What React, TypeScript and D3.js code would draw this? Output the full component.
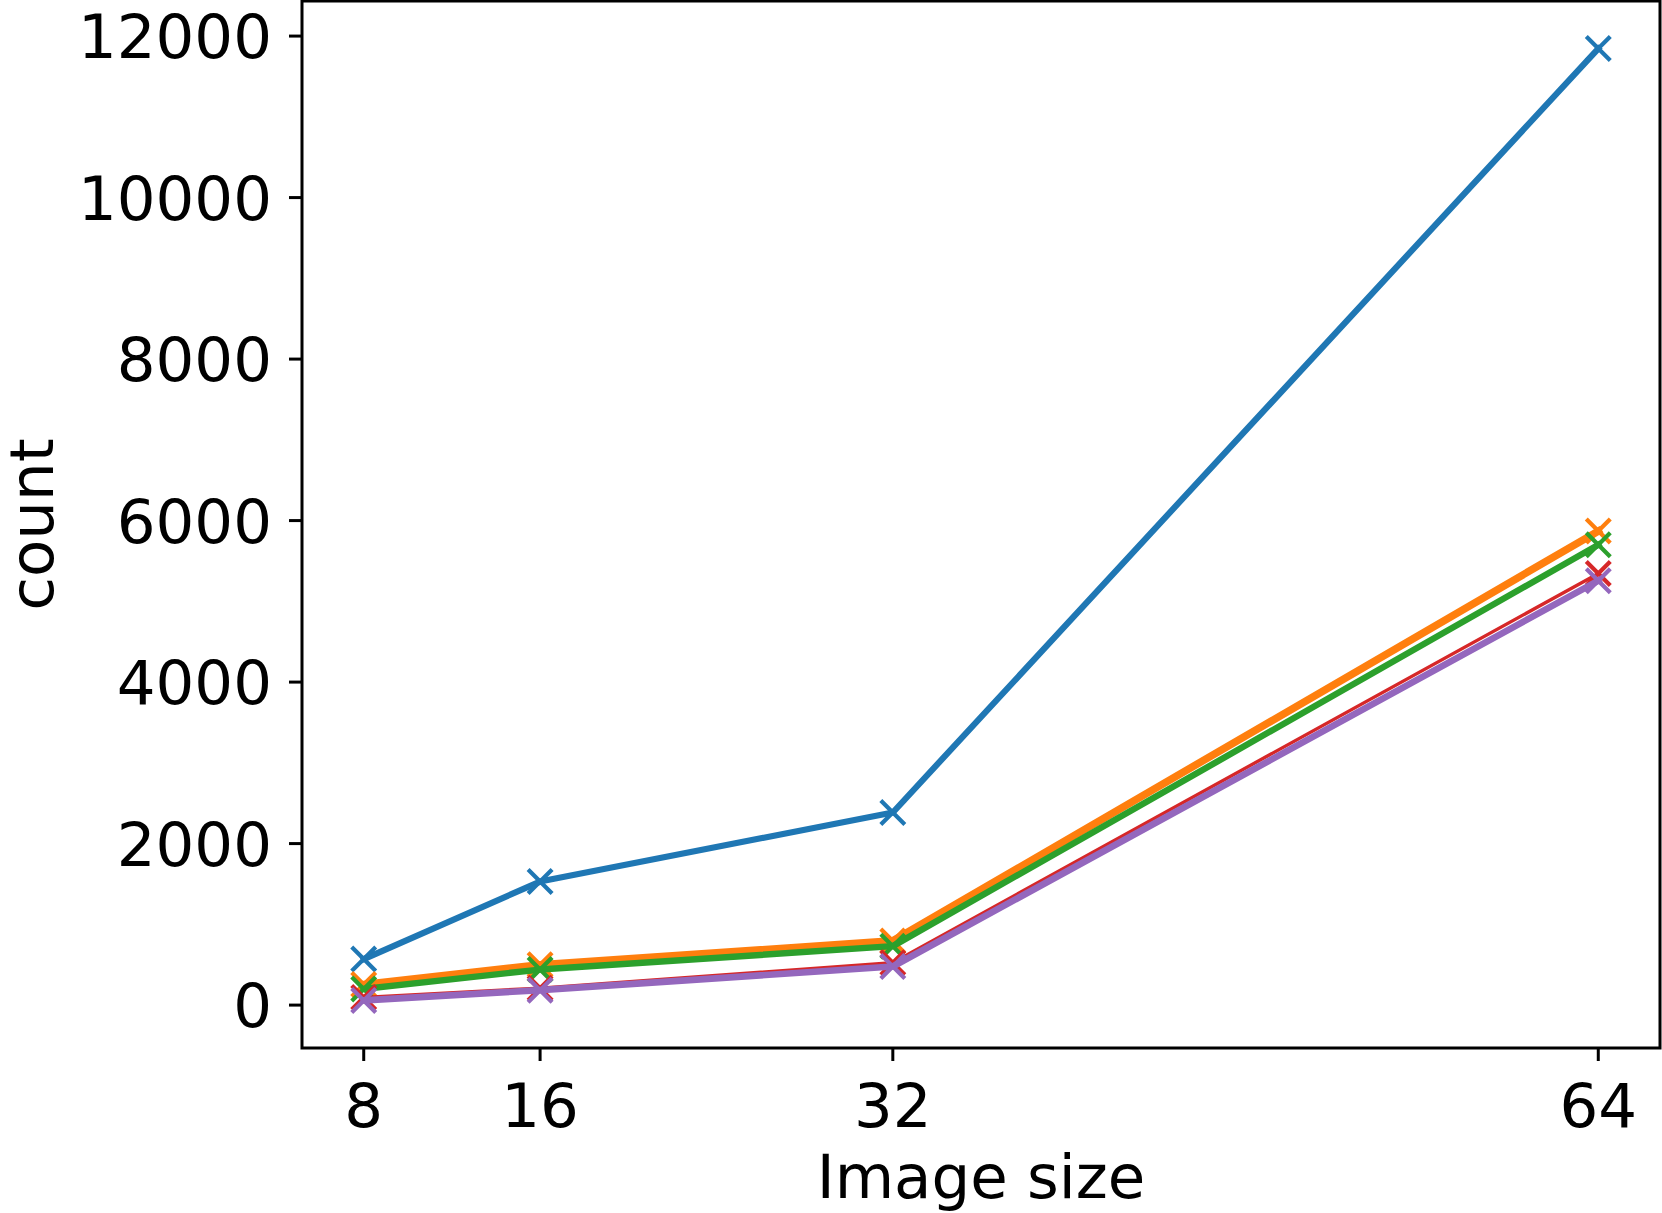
// App.tsx
// line chart of count vs image size, drawn with d3 into an svg ref

import React, { useEffect, useRef } from 'react'
import * as d3 from 'd3'

const imageSizes = [8, 16, 32, 64]
const yTicks = [0, 2000, 4000, 6000, 8000, 10000, 12000]

const blueCounts = [570, 1530, 2385, 11845]
const orangeCounts = [255, 500, 795, 5870]
const greenCounts = [200, 440, 730, 5700]
const redCounts = [95, 210, 525, 5345]
const purpleCounts = [58, 185, 478, 5255]

const seriesList = [
  { name: 'blue', values: blueCounts, color: '#1f77b4', width: 6.2 },
  { name: 'orange', values: orangeCounts, color: '#ff7f0e', width: 7.6 },
  { name: 'green', values: greenCounts, color: '#2ca02c', width: 6.4 },
  { name: 'red', values: redCounts, color: '#d62728', width: 3.4 },
  { name: 'purple', values: purpleCounts, color: '#9467bd', width: 6.6 }
]

const width = 1662
const height = 1213
const font = 'DejaVu Sans, sans-serif'

function App () {
  const ref = useRef<SVGSVGElement | null>(null)

  useEffect(() => {
    document.body.style.margin = '0'
    const svg = d3.select(ref.current)
    svg.selectAll('*').remove()

    const left = 302
    const right = 1660
    const top = 1
    const bottom = 1048

    // matplotlib style 5% margins on both axes
    const allValues = seriesList.flatMap(s => s.values)
    const yMin = d3.min(allValues) as number
    const yMax = d3.max(allValues) as number
    const yPad = (yMax - yMin) * 0.05
    const xPad = (64 - 8) * 0.05

    const x = d3.scaleLinear()
      .domain([8 - xPad, 64 + xPad])
      .range([left, right])
    const y = d3.scaleLinear()
      .domain([yMin - yPad, yMax + yPad])
      .range([bottom, top])

    const g = svg.append('g')

    const line = d3.line<number>()
      .x((d, i) => x(imageSizes[i]))
      .y(d => y(d))

    const m = 12
    seriesList.forEach(s => {
      g.append('path')
        .datum(s.values)
        .attr('fill', 'none')
        .attr('stroke', s.color)
        .attr('stroke-width', s.width)
        .attr('stroke-linejoin', 'round')
        .attr('stroke-linecap', 'square')
        .attr('d', line)

      g.append('g')
        .selectAll('path')
        .data(s.values)
        .enter()
        .append('path')
        .attr('d', (d, i) => {
          const cx = x(imageSizes[i])
          const cy = y(d)
          return `M${cx - m},${cy - m}L${cx + m},${cy + m}M${cx - m},${cy + m}L${cx + m},${cy - m}`
        })
        .attr('stroke', s.color)
        .attr('stroke-width', 4.2)
        .attr('fill', 'none')
    })

    // axes frame
    svg.append('rect')
      .attr('x', left)
      .attr('y', top)
      .attr('width', right - left)
      .attr('height', bottom - top)
      .attr('fill', 'none')
      .attr('stroke', '#000')
      .attr('stroke-width', 3)

    // y ticks
    const yAxis = svg.append('g')
    yTicks.forEach(t => {
      yAxis.append('line')
        .attr('x1', left - 13)
        .attr('x2', left)
        .attr('y1', y(t))
        .attr('y2', y(t))
        .attr('stroke', '#000')
        .attr('stroke-width', 3)
      yAxis.append('text')
        .attr('x', left - 30)
        .attr('y', y(t))
        .attr('dy', '0.36em')
        .attr('text-anchor', 'end')
        .attr('font-family', font)
        .attr('font-size', 61)
        .text(String(t))
    })

    // x ticks
    const xAxis = svg.append('g')
    imageSizes.forEach(t => {
      xAxis.append('line')
        .attr('x1', x(t))
        .attr('x2', x(t))
        .attr('y1', bottom)
        .attr('y2', bottom + 13)
        .attr('stroke', '#000')
        .attr('stroke-width', 3)
      xAxis.append('text')
        .attr('x', x(t))
        .attr('y', 1127)
        .attr('text-anchor', 'middle')
        .attr('font-family', font)
        .attr('font-size', 61)
        .text(String(t))
    })

    svg.append('text')
      .attr('x', (left + right) / 2)
      .attr('y', 1198)
      .attr('text-anchor', 'middle')
      .attr('font-family', font)
      .attr('font-size', 61)
      .text('Image size')

    svg.append('g')
      .attr('transform', 'translate(53,' + (top + bottom) / 2 + ')')
      .append('text')
      .attr('text-anchor', 'middle')
      .attr('transform', 'rotate(-90)')
      .attr('font-family', font)
      .attr('font-size', 61)
      .text('count')
  }, [])

  return <svg ref={ref} width={width} height={height} style={{ display: 'block', background: '#fff' }} />
}

export default App
